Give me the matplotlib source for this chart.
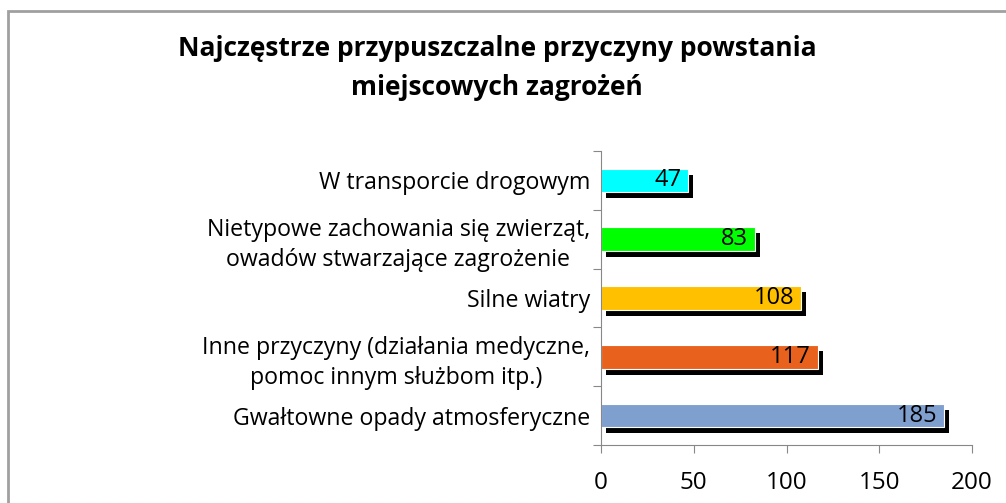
import matplotlib
matplotlib.use("Agg")
import matplotlib.pyplot as plt
import matplotlib.patheffects as pe
from matplotlib.patches import Rectangle

categories = [
    "Gwałtowne opady atmosferyczne",
    "Inne przyczyny (działania medyczne,\npomoc innym służbom itp.)",
    "Silne wiatry",
    "Nietypowe zachowania się zwierząt,\nowadów stwarzające zagrożenie",
    "W transporcie drogowym",
]
values = [185, 117, 108, 83, 47]
colors = ["#7F9FCF", "#E8621E", "#FFC000", "#00FF00", "#00FFFF"]
xticks = [0, 50, 100, 150, 200]
title = "Najczęstrze przypuszczalne przyczyny powstania\nmiejscowych zagrożeń"

plt.rcParams["font.family"] = ["Open Sans", "DejaVu Sans"]

W, H = 1006, 503
fig = plt.figure(figsize=(W / 100, H / 100), dpi=100)
fig.patch.set_facecolor("white")

# outer chart frame (extends beyond canvas on right/bottom)
fig.patches.append(Rectangle((8 / W, 1 - 1180 / H), 1200 / W, 1169 / H,
                             transform=fig.transFigure, fill=False,
                             edgecolor="#A0A0A0", linewidth=2))

ax = fig.add_axes([601 / W, 1 - 445 / H, (972 - 601) / W, (445 - 151) / H])
ypos = list(range(len(values)))
shadow = [pe.SimplePatchShadow(offset=(3.6, -4.3), shadow_rgbFace="black", alpha=1.0), pe.Normal()]
bars = ax.barh(ypos, values, height=0.4, color=colors, edgecolor="white", linewidth=0.8)
for b in bars:
    b.set_path_effects(shadow)

for y, v in zip(ypos, values):
    ax.annotate(str(v), (v, y), xytext=(-5, 0), textcoords="offset points",
                ha="right", va="center", fontsize=17, color="black")

ax.set_xlim(0, 200)
ax.set_ylim(-0.5, len(values) - 0.5)
ax.set_xticks(xticks)
ax.set_xticklabels([str(t) for t in xticks], fontsize=17.5)
ax.set_yticks([i - 0.5 for i in range(len(values) + 1)], minor=False)
ax.set_yticklabels([])
ax.set_yticks(ypos, minor=True)
ax.set_yticklabels(categories, minor=True, fontsize=16.7, multialignment="center",
                   linespacing=1.35)
ax.tick_params(axis="y", which="minor", length=0, pad=8)
ax.tick_params(axis="y", which="major", length=6, color="#888888")
ax.tick_params(axis="x", length=6, color="#888888", pad=13)
for s in ["top", "right"]:
    ax.spines[s].set_visible(False)
for s in ["left", "bottom"]:
    ax.spines[s].set_color("#888888")

fig.text(497 / W, 1 - 68 / H, title, ha="center", va="center", fontsize=19,
         fontweight="bold", linespacing=1.55)

fig.savefig("out.png", dpi=100)
